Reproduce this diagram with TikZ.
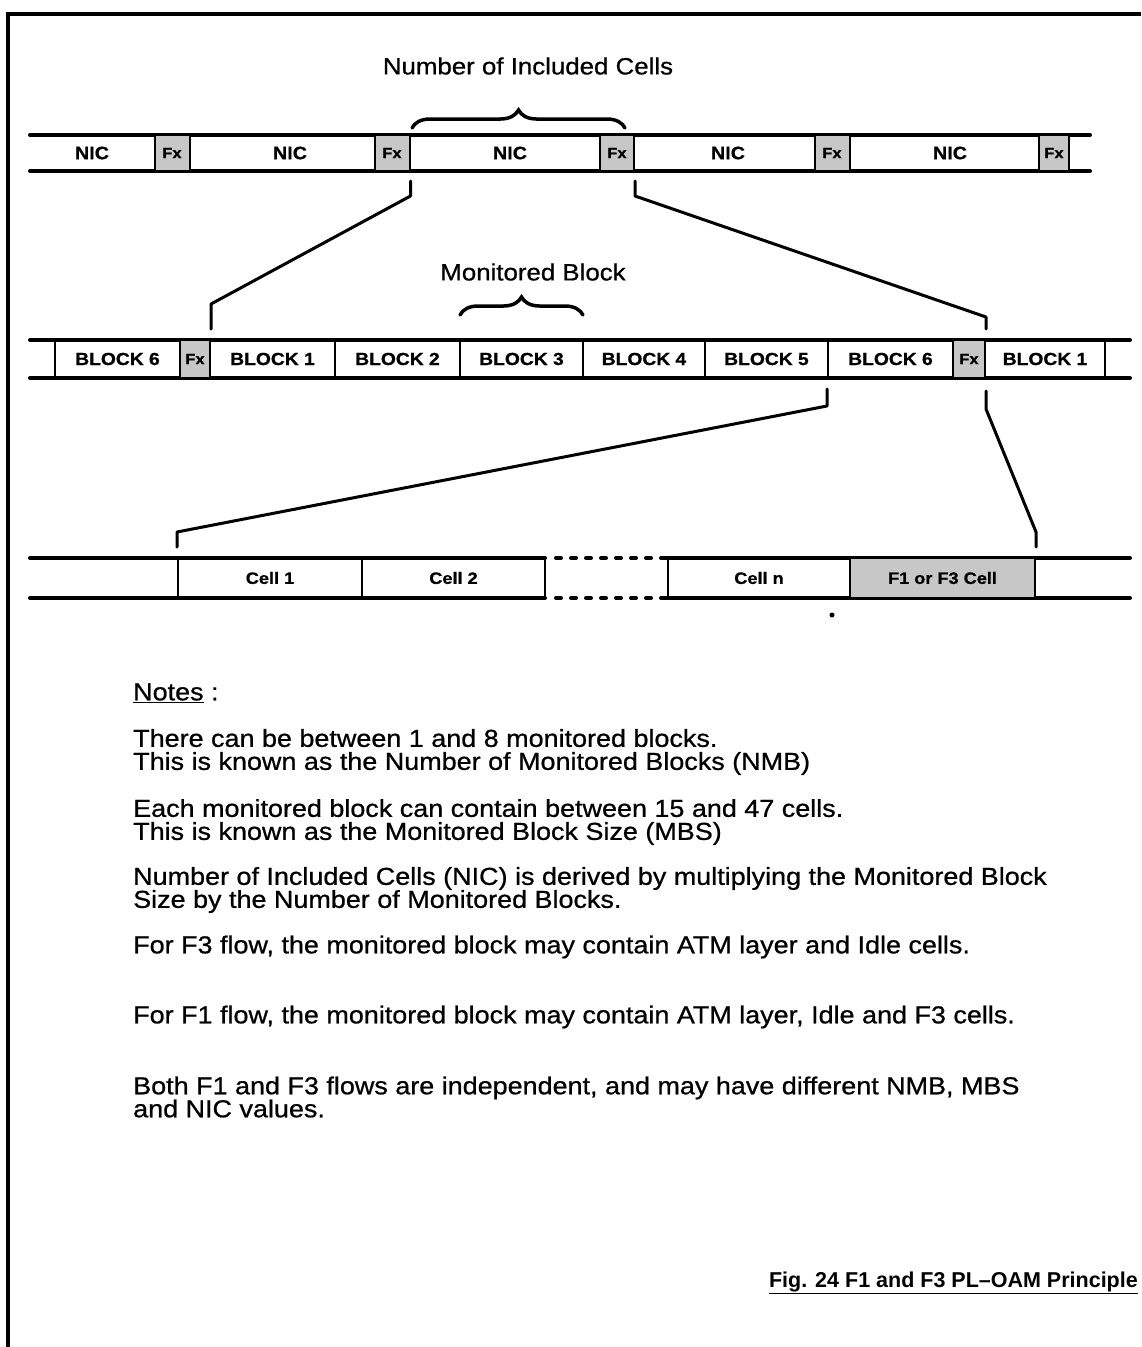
\documentclass[tikz,border=0pt]{standalone}
\usepackage{fontspec}
\setmainfont{Liberation Sans}[FakeStretch=1.1, FakeBold=0.8]
\newfontfamily\figfont{Liberation Sans}[Ligatures=TeX]
\usetikzlibrary{positioning,calc,decorations.pathreplacing}

\begin{document}
\begin{tikzpicture}[x=1pt, y=-1pt,
    frame/.style={line width=4pt},
    rail/.style={line width=4pt, line cap=round},
    dotrail/.style={line width=4pt, line cap=round, dash pattern=on 5pt off 10pt},
    seg/.style={draw, line width=2pt, inner sep=0pt, font=\fontsize{17.5}{20}\selectfont\bfseries},
    blk/.style={seg, minimum height=38},
    cellbox/.style={seg, minimum height=40, font=\fontsize{16.5}{19}\selectfont\bfseries},
    fxbox/.style={seg, fill=black!22, minimum height=36, font=\fontsize{15}{17}\selectfont\bfseries},
    nic/.style={inner sep=0pt, font=\fontsize{18}{20}\selectfont\bfseries},
    lead/.style={line width=3pt, line cap=round, line join=round},
    brc/.style={decorate, decoration={brace, amplitude=18pt}, line width=3.5pt, line cap=round},
    heading/.style={inner sep=0pt, font=\fontsize{23.5}{28}\selectfont},
    note/.style={anchor=west, align=left, inner sep=0pt, font=\fontsize{24.5}{23}\selectfont},
]
\useasboundingbox (0,0) rectangle (1141,1347);
% frame
\draw[frame] (8,1347) -- (8,14) -- (1141,14);

% Row 1: NIC and Fx cells
\node[heading] (nictitle) at (528,66) {Number of Included Cells};
\draw[rail] (30,135) -- (1090,135);
\draw[rail] (30,171) -- (1090,171);
\node[fxbox, minimum width=35] (fxa) at (172,153) {Fx};
\node[fxbox, minimum width=35] (fxb) at (392,153) {Fx};
\node[fxbox, minimum width=34] (fxc) at (617,153) {Fx};
\node[fxbox, minimum width=35] (fxd) at (832,153) {Fx};
\node[fxbox, minimum width=30] (fxe) at (1054,153) {Fx};
\node[nic] (nica) at (92,153) {NIC};
\node[nic] (nicb) at (290,153) {NIC};
\node[nic] (nicc) at (510,153) {NIC};
\node[nic] (nicd) at (728,153) {NIC};
\node[nic] (nice) at (950,153) {NIC};
\draw[brc] (412,128) -- (625,128);

% Row 2: monitored blocks
\node[heading] (mbtitle) at (533,272) {Monitored Block};
\draw[rail] (30,340) -- (1130,340);
\draw[rail] (30,378) -- (1130,378);
\node[blk, minimum width=125] (blksixa) at (117.5,359) {BLOCK 6};
\node[fxbox, minimum width=30, minimum height=38] (fxl) at (195,359) {Fx};
\node[blk, minimum width=125] (blkonea) at (272.5,359) {BLOCK 1};
\node[blk, minimum width=125] (blktwo) at (397.5,359) {BLOCK 2};
\node[blk, minimum width=123] (blkthree) at (521.5,359) {BLOCK 3};
\node[blk, minimum width=122] (blkfour) at (644,359) {BLOCK 4};
\node[blk, minimum width=123] (blkfive) at (766.5,359) {BLOCK 5};
\node[blk, minimum width=125] (blksixb) at (890.5,359) {BLOCK 6};
\node[fxbox, minimum width=32, minimum height=38] (fxr) at (969,359) {Fx};
\node[blk, minimum width=120] (blkoneb) at (1045,359) {BLOCK 1};
\draw[brc] (460,315) -- (583,315);

% Row 3: cells of one block
\draw[rail] (30,558) -- (545,558);
\draw[rail] (30,598) -- (545,598);
\draw[dotrail] (556,558) -- (668,558);
\draw[dotrail] (556,598) -- (668,598);
\draw[rail] (668,558) -- (1130,558);
\draw[rail] (668,598) -- (1130,598);
\node[cellbox, minimum width=184] (cellone) at (270,578) {Cell 1};
\node[cellbox, minimum width=183] (celltwo) at (453.5,578) {Cell 2};
\node[cellbox, minimum width=182] (celln) at (759,578) {Cell n};
\node[cellbox, fill=black!22, minimum width=185] (oamcell) at (942.5,578) {F1 or F3 Cell};
\fill (832,615) circle (2.5);

% expansion leads
\draw[lead] ($(fxb.south east)+(0,9)$) -- ++(0,15) -- ($(fxl.north east)+(0,-35)$) -- ++(0,25);
\draw[lead] ($(fxc.south east)+(0,9)$) -- ++(0,15) -- ($(fxr.north east)+(0,-22)$) -- ++(0,12);
\draw[lead] ($(blksixb.south west)+(0,10)$) -- ++(0,17) -- ($(cellone.north west)+(0,-25)$) -- ++(0,15);
\draw[lead] ($(fxr.south east)+(0,12)$) -- ++(0,18) -- ($(oamcell.north east)+(0,-25)$) -- ++(0,15);

% notes
\node[note] (notes) at (133,693) {\underline{Notes} :};
\node[note] (nmb) at (133,752) {There can be between 1 and 8 monitored blocks.\\This is known as the Number of Monitored Blocks (NMB)};
\node[note] (mbs) at (133,822) {Each monitored block can contain between 15 and 47 cells.\\This is known as the Monitored Block Size (MBS)};
\node[note] (nicnote) at (133,890) {Number of Included Cells (NIC) is derived by multiplying the Monitored Block\\Size by the Number of Monitored Blocks.};
\node[note] (fthree) at (133,947) {For F3 flow, the monitored block may contain ATM layer and Idle cells.};
\node[note] (fone) at (133,1017) {For F1 flow, the monitored block may contain ATM layer, Idle and F3 cells.};
\node[note] (indep) at (133,1097) {Both F1 and F3 flows are independent, and may have different NMB, MBS\\and NIC values.};
\node[note, anchor=east, font=\figfont\bfseries\fontsize{21.5}{24}\selectfont] (caption) at (1138,1283) {\underline{Fig. 24 F1 and F3 PL--OAM Principle}};
\end{tikzpicture}
\end{document}
